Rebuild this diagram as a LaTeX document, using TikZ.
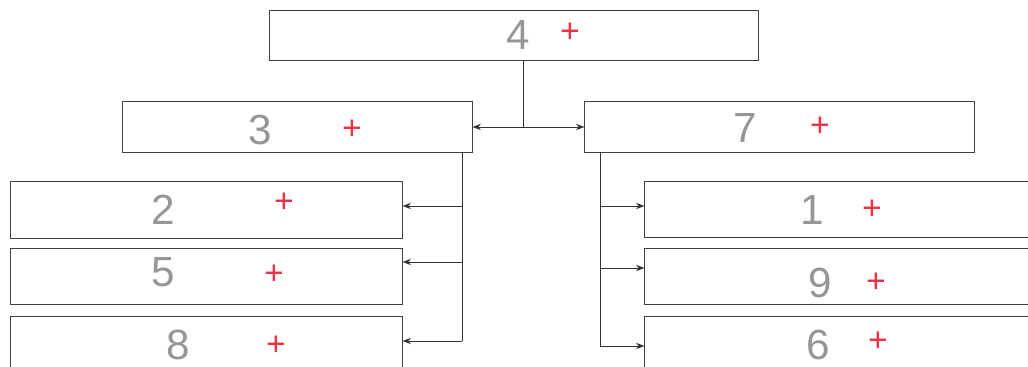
\documentclass[tikz,border=0pt]{standalone}
\usepackage{fontspec}
\setmainfont{Liberation Sans}
\usetikzlibrary{arrows.meta}
\definecolor{pen}{RGB}{150,150,150}
\definecolor{tick}{RGB}{238,50,70}
\tikzset{
  blk/.style={draw=black!75,line width=0.7pt,fill=white},
  digit/.style={text=pen,font=\fontsize{30}{30}\selectfont,inner sep=0pt},
  tickmark/.style={text=tick,font=\fontsize{24}{24}\selectfont,inner sep=0pt},
  wire/.style={draw=black!80,line width=0.6pt},
  arr/.style={wire,-{Stealth[length=6pt,width=4.5pt]}}
}
\begin{document}
\begin{tikzpicture}[x=0.025cm,y=-0.025cm]
    \useasboundingbox (0,0) rectangle (1028,367);
    % top row
    \node[blk,minimum width=12.2cm,minimum height=1.225cm] (b4) at (514,35.5) {};
    \node[blk,minimum width=8.725cm,minimum height=1.25cm] (b3) at (297.5,127) {};
    \node[blk,minimum width=9.725cm,minimum height=1.25cm] (b7) at (779.5,127) {};
    % left column
    \foreach \n\y in {2/210,5/276.5,8/344}{
      \node[blk,minimum width=9.775cm,minimum height=1.4cm] (b\n) at (206.5,\y) {};
    }
    % right column
    \foreach \n\y in {1/209.5,9/276.5,6/344}{
      \node[blk,minimum width=9.875cm,minimum height=1.375cm] (b\n) at (842.5,\y) {};
    }

    \foreach \n\x\y in {4/518/35,3/260/130,7/745/128,2/163/210,5/163/272,
        8/178/345,1/812/210,9/820/283,6/818/345}{
      \node[digit] (d\n) at (\x,\y) {\n};
    }
    \foreach \n\x\y in {4/570/33,3/352/130,7/820/127,2/284/203,5/274/275,
        8/276/346,1/872/210,9/876/283,6/878/342}{
      \node[tickmark] (p\n) at (\x,\y) {+};
    }

    % links
    \coordinate (j) at (523,127);
    \draw[wire] (b4.south -| j) -- (j);
    \draw[arr] (j) -- (b3.east);
    \draw[arr] (j) -- (b7.west);

    \coordinate (l) at (462,341);
    \draw[wire] (b3.south -| l) -- (l);
    \foreach \n\y in {2/206,5/262,8/341}{
      \coordinate (l\n) at (462,\y);
      \draw[arr] (l\n) -- (l\n -| b\n.east);
    }
    \coordinate (r) at (600,346);
    \draw[wire] (b7.south -| r) -- (r);
    \foreach \n\y in {1/206,9/268,6/346}{
      \coordinate (r\n) at (600,\y);
      \draw[arr] (r\n) -- (r\n -| b\n.west);
    }
\end{tikzpicture}
\end{document}
